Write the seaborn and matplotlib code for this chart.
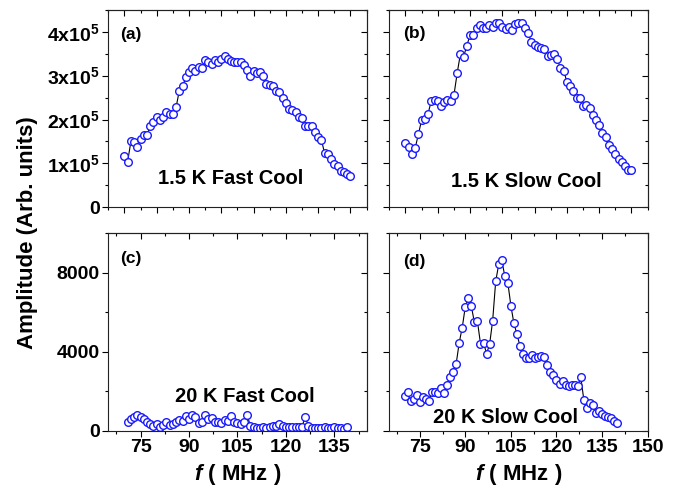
import numpy as np
import seaborn as sns
import matplotlib as mpl
import matplotlib.pyplot as plt
from matplotlib.ticker import MultipleLocator, FixedLocator

# frequency grids (MHz), 1 MHz steps
freq_top = np.arange(70, 141)
freq_c = np.arange(71, 140)
freq_d = np.arange(70, 141)

# (a) 1.5 K fast cool, units of 1e5
amp_a = [1.17, 1.04, 1.50, 1.48, 1.37, 1.55, 1.65, 1.65, 1.85, 1.95,
         2.05, 1.99, 2.05, 2.17, 2.12, 2.13, 2.28, 2.66, 2.76, 2.96,
         3.09, 3.17, 3.11, 3.20, 3.17, 3.36, 3.30, 3.27, 3.36, 3.32,
         3.37, 3.45, 3.37, 3.34, 3.32, 3.30, 3.30, 3.24, 3.12, 2.99,
         3.11, 3.05, 3.08, 2.99, 2.81, 2.79, 2.77, 2.64, 2.62, 2.48,
         2.37, 2.25, 2.22, 2.17, 2.05, 2.03, 1.85, 1.85, 1.85, 1.71,
         1.61, 1.54, 1.23, 1.21, 1.10, 0.98, 0.95, 0.83, 0.80, 0.76,
         0.72]

# (b) 1.5 K slow cool, units of 1e5
amp_b = [1.47, 1.38, 1.21, 1.35, 1.66, 1.99, 2.01, 2.13, 2.43, 2.44,
         2.43, 2.31, 2.41, 2.44, 2.43, 2.55, 3.05, 3.49, 3.43, 3.68,
         3.93, 3.93, 4.08, 4.15, 4.08, 4.08, 4.15, 4.10, 4.21, 4.19,
         4.10, 4.06, 4.11, 4.05, 4.17, 4.21, 4.19, 4.08, 3.98, 3.76,
         3.70, 3.65, 3.62, 3.61, 3.45, 3.46, 3.49, 3.37, 3.18, 3.11,
         2.86, 2.77, 2.65, 2.48, 2.48, 2.31, 2.32, 2.26, 2.10, 1.98,
         1.88, 1.70, 1.61, 1.42, 1.33, 1.22, 1.11, 1.03, 0.94, 0.86,
         0.85]

# (c) 20 K fast cool
amp_c = [425, 579, 715, 800, 681, 579, 425, 340, 255, 323,
         170, 289, 425, 289, 340, 425, 545, 511, 766, 613,
         800, 715, 408, 425, 800, 579, 664, 460, 425, 374,
         545, 494, 749, 460, 408, 340, 460, 800, 255, 204,
         119, 119, 170, 119, 204, 238, 255, 323, 238, 204,
         204, 204, 204, 204, 204, 715, 238, 153, 153, 119,
         119, 170, 119, 153, 170, 119, 119, 102, 170]

# (d) 20 K slow cool
amp_d = [1736, 1957, 1481, 1617, 1821, 1430, 1702, 1617, 1481, 1957,
         1957, 1906, 2162, 1906, 2298, 2706, 2979, 3387, 4459, 5225,
         6280, 6723, 6297, 5480, 5532, 4408, 4459, 3898, 4374, 5566,
         7557, 8425, 8629, 7829, 7489, 6331, 5429, 4885, 4289, 3864,
         3693, 3693, 3812, 3659, 3727, 3778, 3727, 3319, 2961, 2842,
         2553, 2366, 2502, 2332, 2281, 2298, 2290, 2281, 2723, 1566,
         1174, 1396, 1311, 919, 1004, 834, 749, 681, 630, 511,
         374]

top_yticks = [0, 1e5, 2e5, 3e5, 4e5]
top_ylabels = ['0', '1x10$^5$', '2x10$^5$', '3x10$^5$', '4x10$^5$']
bot_yticks = [0, 4000, 8000]
bot_xticks_left = [75, 90, 105, 120, 135]
bot_xticks_right = [75, 90, 105, 120, 135, 150]


def style_axis(ax, xmaj, xmin, ymaj, ymin):
    ax.xaxis.set_major_locator(xmaj)
    ax.xaxis.set_minor_locator(xmin)
    ax.yaxis.set_major_locator(ymaj)
    ax.yaxis.set_minor_locator(ymin)
    ax.tick_params(which='major', direction='out', length=4, width=0.8)
    ax.tick_params(which='minor', direction='out', length=2.5, width=0.8)
    for s in ax.spines.values():
        s.set_linewidth(0.8)
        s.set_color('#222222')
    # mirrored inward ticks on top and right
    sx = ax.secondary_xaxis('top')
    sx.xaxis.set_major_locator(xmaj)
    sx.xaxis.set_minor_locator(xmin)
    sx.tick_params(which='both', direction='in', labeltop=False, width=0.8)
    sx.tick_params(which='major', length=4)
    sx.tick_params(which='minor', length=2.5)
    sy = ax.secondary_yaxis('right')
    sy.yaxis.set_major_locator(ymaj)
    sy.yaxis.set_minor_locator(ymin)
    sy.tick_params(which='both', direction='in', labelright=False, width=0.8)
    sy.tick_params(which='major', length=4)
    sy.tick_params(which='minor', length=2.5)


def draw(ax, x, y):
    sns.lineplot(x=x, y=y, ax=ax, color='black', lw=0.8, marker='o',
                 markersize=5.5, markerfacecolor='white',
                 markeredgecolor='#1a1aff', markeredgewidth=1.0)


def main():
    sns.set_style('ticks')
    mpl.rcParams['font.family'] = ['Liberation Sans', 'DejaVu Sans']
    mpl.rcParams['font.weight'] = 'bold'
    mpl.rcParams['mathtext.fontset'] = 'custom'
    mpl.rcParams['mathtext.rm'] = 'Liberation Sans:bold'
    mpl.rcParams['mathtext.bf'] = 'Liberation Sans:bold'
    mpl.rcParams['mathtext.it'] = 'Liberation Sans:italic:bold'
    mpl.rcParams['mathtext.default'] = 'rm'
    for key in ('text.color', 'axes.labelcolor', 'xtick.color', 'ytick.color'):
        mpl.rcParams[key] = 'black'

    fig, axes = plt.subplots(2, 2, figsize=(6.81, 4.9), dpi=100)
    fig.subplots_adjust(left=0.159, right=0.951, top=0.98, bottom=0.121,
                        wspace=0.088, hspace=0.131)
    ax_a, ax_b = axes[0]
    ax_c, ax_d = axes[1]

    amp_a_abs = np.array(amp_a) * 1e5
    amp_b_abs = np.array(amp_b) * 1e5

    draw(ax_a, freq_top, amp_a_abs)
    draw(ax_b, freq_top, amp_b_abs)
    draw(ax_c, freq_c, amp_c)
    draw(ax_d, freq_d, amp_d)

    for ax in (ax_a, ax_b):
        ax.set_xlim(65, 145)
        ax.set_ylim(0, 4.5e5)
        style_axis(ax, MultipleLocator(10), MultipleLocator(5),
                   FixedLocator(top_yticks), MultipleLocator(0.5e5))
        ax.set_xticklabels([])
    ax_a.set_yticks(top_yticks)
    ax_a.set_yticklabels(top_ylabels)
    ax_b.set_yticklabels([])

    ax_c.set_xlim(65, 145)
    ax_d.set_xlim(65, 150)
    for ax, xt in ((ax_c, bot_xticks_left), (ax_d, bot_xticks_right)):
        ax.set_ylim(0, 10000)
        style_axis(ax, FixedLocator(xt), MultipleLocator(7.5),
                   FixedLocator(bot_yticks), MultipleLocator(2000))
        ax.set_xlabel(r'$\mathit{f}$ ( MHz )', fontsize=16,
                      fontweight='bold', labelpad=4)
    ax_c.set_xticks(bot_xticks_left)
    ax_d.set_xticks(bot_xticks_right)
    ax_c.set_yticks(bot_yticks)
    ax_d.set_yticklabels([])

    for ax in axes.flat:
        ax.set_ylabel('')
        ax.tick_params(labelsize=14, pad=2)

    ax_a.text(0.047, 0.873, '(a)', transform=ax_a.transAxes, fontsize=12.5,
              fontweight='bold', va='center')
    ax_b.text(0.054, 0.878, '(b)', transform=ax_b.transAxes, fontsize=12.5,
              fontweight='bold', va='center')
    ax_c.text(0.046, 0.87, '(c)', transform=ax_c.transAxes, fontsize=12.5,
              fontweight='bold', va='center')
    ax_d.text(0.053, 0.856, '(d)', transform=ax_d.transAxes, fontsize=12.5,
              fontweight='bold', va='center')

    ax_a.text(0.472, 0.148, '1.5 K Fast Cool', transform=ax_a.transAxes,
              fontsize=14.5, fontweight='bold', ha='center', va='center')
    ax_b.text(0.529, 0.131, '1.5 K Slow Cool', transform=ax_b.transAxes,
              fontsize=14.5, fontweight='bold', ha='center', va='center')
    ax_c.text(0.527, 0.171, '20 K Fast Cool', transform=ax_c.transAxes,
              fontsize=14.5, fontweight='bold', ha='center', va='center')
    ax_d.text(0.451, 0.068, '20 K Slow Cool', transform=ax_d.transAxes,
              fontsize=14.5, fontweight='bold', ha='center', va='center')

    fig.text(0.04, 0.525, 'Amplitude (Arb. units)', rotation=90,
             ha='center', va='center', fontsize=16, fontweight='bold')

    fig.savefig('out.png', dpi=100)


if __name__ == '__main__':
    main()
